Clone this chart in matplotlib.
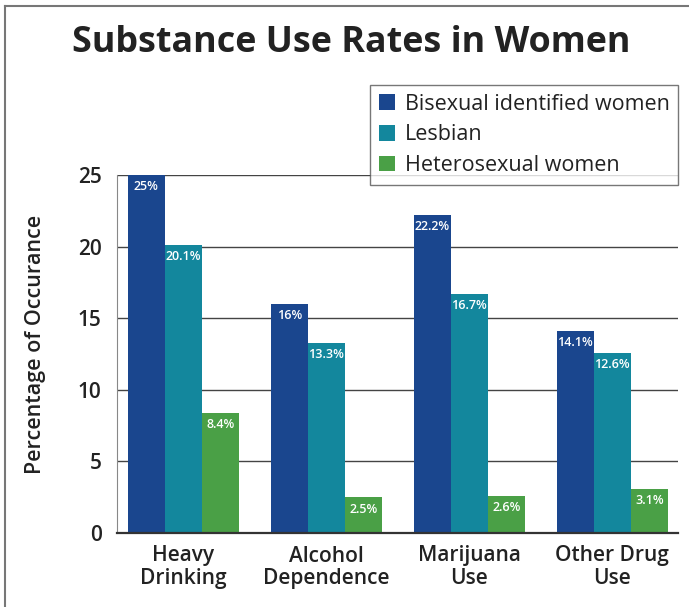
import matplotlib
matplotlib.use("Agg")
import matplotlib.pyplot as plt
import numpy as np
from matplotlib.patches import Patch
from matplotlib.lines import Line2D

categories = ["Heavy\nDrinking", "Alcohol\nDependence", "Marijuana\nUse", "Other Drug\nUse"]
series_names = ["Bisexual identified women", "Lesbian", "Heterosexual women"]
bisexual = [25, 16, 22.2, 14.1]
lesbian = [20.1, 13.3, 16.7, 12.6]
hetero = [8.4, 2.5, 2.6, 3.1]
bi_labels = ["25%", "16%", "22.2%", "14.1%"]
les_labels = ["20.1%", "13.3%", "16.7%", "12.6%"]
het_labels = ["8.4%", "2.5%", "2.6%", "3.1%"]
yticks = [0, 5, 10, 15, 20, 25]

colors = ["#1A468E", "#13879D", "#4AA046"]
font = "Open Sans"
plt.rcParams['font.family'] = [font, 'DejaVu Sans']

fig = plt.figure(figsize=(6.89, 6.07), dpi=100)
ax = fig.add_axes([117/689, 1-533/607, (678-117)/689, (533-175)/607])

x = np.arange(len(categories))
w = 0.26
data = [bisexual, lesbian, hetero]
labels = [bi_labels, les_labels, het_labels]
for i, (vals, labs) in enumerate(zip(data, labels)):
    pos = x + (i-1)*w
    ax.bar(pos, vals, width=w, color=colors[i], zorder=3, label=series_names[i])
    for p, v, l in zip(pos, vals, labs):
        ax.annotate(l, xy=(p, v), xytext=(0, -8.5), textcoords="offset points",
                    ha="center", va="center", color="white", fontsize=9,
                    fontweight="semibold", zorder=4)

ax.set_xlim(-0.465, 3.46)
ax.set_ylim(0, 25)
ax.set_yticks(yticks)
ax.set_yticklabels([str(t) for t in yticks], fontsize=15, fontweight="semibold", color="#222222")
ax.set_xticks(x)
ax.set_xticklabels(categories, fontsize=15, fontweight="semibold", color="#222222", linespacing=1.1)
ax.tick_params(axis="both", length=0)
ax.tick_params(axis="y", pad=11)
ax.tick_params(axis="x", pad=9)
ax.yaxis.grid(True, color="#444444", linewidth=1.0, zorder=0)
for s in ["top", "right"]:
    ax.spines[s].set_visible(False)
ax.spines["left"].set_color("#888888")
ax.spines["bottom"].set_color("#333333")
ax.spines["bottom"].set_linewidth(1.6)
ax.spines["bottom"].set_zorder(5)

ax.set_ylabel("Percentage of Occurance", fontsize=15.5, fontweight="semibold", color="#222222")
ax.yaxis.set_label_coords((46-117)/561, (354-344)/358 + 0.5)

fig.text(351/689, 1-43/607, "Substance Use Rates in Women", ha="center", va="center",
         fontsize=25.8, fontweight="bold", color="#222222")

handles = [Patch(facecolor=c, edgecolor="none") for c in colors]
leg = fig.legend(handles, series_names, loc="upper right",
                 bbox_to_anchor=(678/689, 1-85/607), fontsize=15.5,
                 frameon=True, fancybox=False, edgecolor="#555555",
                 handlelength=0.75, handleheight=0.75, handletextpad=0.45,
                 labelspacing=0.45, borderpad=0.4, borderaxespad=0)
leg.get_frame().set_linewidth(1.0)
for t in leg.get_texts():
    t.set_color("#222222")

fig.add_artist(Line2D([5/689, 1], [1-6/607, 1-6/607], color="#777777", linewidth=1.5, transform=fig.transFigure))
fig.add_artist(Line2D([5/689, 5/689], [0, 1-6/607], color="#777777", linewidth=1.5, transform=fig.transFigure))

fig.savefig("out.png", dpi=100)
